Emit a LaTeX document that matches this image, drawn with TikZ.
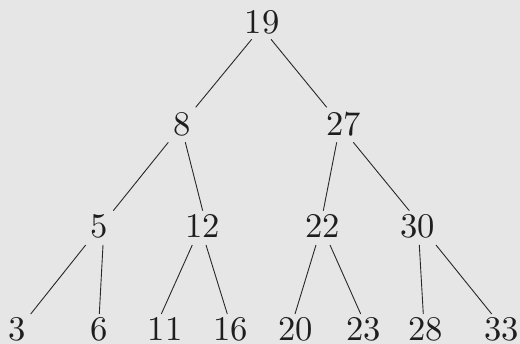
\documentclass[tikz,border=0pt]{standalone}
\usepackage{fontspec}
\definecolor{bg}{RGB}{230,230,230}
\definecolor{ink}{RGB}{30,30,30}
\definecolor{edgec}{RGB}{40,40,40}
\begin{document}
\begin{tikzpicture}[x=1pt,y=1pt,
  num/.style={inner sep=0pt, anchor=base, text=ink, font=\fontsize{10}{12}\selectfont, scale=3.46},
  branch/.style={draw=edgec, line width=0.9pt}]
\fill[bg] (0,0) rectangle (520,-344);
\useasboundingbox (0,0) rectangle (520,-344);
\node[num] (n19) at (262,-33.3) {19};
\node[num] (n8) at (182,-136) {8};
\node[num] (n27) at (343.5,-136) {27};
\node[num] (n5) at (99.5,-238) {5};
\node[num] (n12) at (202.8,-238) {12};
\node[num] (n22) at (322.8,-238) {22};
\node[num] (n30) at (417.8,-238) {30};
\node[num] (n3) at (16.7,-340.5) {3};
\node[num] (n6) at (99.5,-340.5) {6};
\node[num] (n11) at (165,-340.5) {11};
\node[num] (n16) at (230.5,-340.5) {16};
\node[num] (n20) at (295.5,-340.5) {20};
\node[num] (n23) at (363.7,-340.5) {23};
\node[num] (n28) at (425.8,-340.5) {28};
\node[num] (n33) at (501.7,-340.5) {33};
\draw[branch] ([shift={(-10.3,-6)}]n19.base) -- ([shift={(13.7,28.7)}]n8.base);
\draw[branch] ([shift={(9,-6)}]n19.base) -- ([shift={(-16.8,28.7)}]n27.base);
\draw[branch] ([shift={(-13.7,-6.3)}]n8.base) -- ([shift={(13.8,27.3)}]n5.base);
\draw[branch] ([shift={(3.3,-6.3)}]n8.base) -- ([shift={(-0.1,27.3)}]n12.base);
\draw[branch] ([shift={(-6.8,-6.3)}]n27.base) -- ([shift={(0.5,27.3)}]n22.base);
\draw[branch] ([shift={(9.8,-6.3)}]n27.base) -- ([shift={(-8.5,27.3)}]n30.base);
\draw[branch] ([shift={(-13.8,-7)}]n5.base) -- ([shift={(14,26.5)}]n3.base);
\draw[branch] ([shift={(3.5,-7)}]n5.base) -- ([shift={(-0.2,26.5)}]n6.base);
\draw[branch] ([shift={(-10.5,-7)}]n12.base) -- ([shift={(-3.7,26.5)}]n11.base);
\draw[branch] ([shift={(3.2,-7)}]n12.base) -- ([shift={(-3.2,26.5)}]n16.base);
\draw[branch] ([shift={(-6.8,-7)}]n22.base) -- ([shift={(-0.5,26.5)}]n20.base);
\draw[branch] ([shift={(7.2,-7)}]n22.base) -- ([shift={(-3,26.5)}]n23.base);
\draw[branch] ([shift={(1.5,-7)}]n30.base) -- ([shift={(-2.5,26.5)}]n28.base);
\draw[branch] ([shift={(18.2,-7)}]n30.base) -- ([shift={(-10,26.5)}]n33.base);
\end{tikzpicture}
\end{document}
